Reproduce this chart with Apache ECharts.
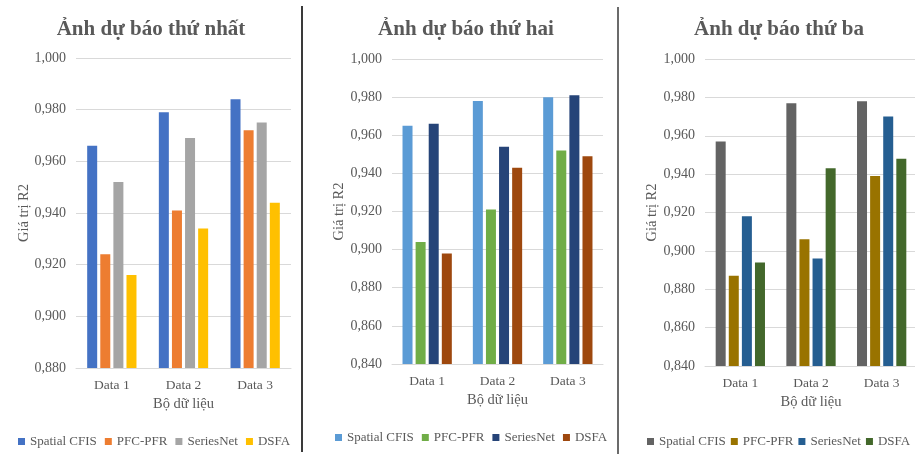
<!DOCTYPE html>
<html>
<head>
<meta charset="utf-8">
<script src="https://cdn.jsdelivr.net/npm/echarts@6/dist/echarts.min.js"></script>
<style>
  html, body { margin: 0; padding: 0; background: #fff; overflow: hidden; }
  #wrap { position: relative; width: 915px; height: 454px; overflow: hidden; }
  .pane { position: absolute; top: 0; height: 454px; }
  .sep { position: absolute; width: 2px; }
</style>
</head>
<body>
<div id="wrap">
  <div class="pane" id="pic1" style="left:0;width:302px"></div>
  <div class="pane" id="pic2" style="left:303px;width:314px"></div>
  <div class="pane" id="pic3" style="left:619px;width:320px"></div>
  <div class="sep" style="left:301px;top:6px;height:446px;background:#3a3a3a"></div>
  <div class="sep" style="left:617px;top:7px;height:447px;background:#6b6b6b"></div>
</div>
<script>
(function() {
  'use strict';
  var echarts = window.echarts;

  // 数据
  var categories = ['Data 1', 'Data 2', 'Data 3'];
  var models = ['Spatial CFIS', 'PFC-PFR', 'SeriesNet', 'DSFA'];

  var titles = ['Ảnh dự báo thứ nhất', 'Ảnh dự báo thứ hai', 'Ảnh dự báo thứ ba'];

  // 图一
  var spatial1 = [0.966, 0.979, 0.984];
  var pfc1 = [0.924, 0.941, 0.972];
  var seriesNet1 = [0.952, 0.969, 0.975];
  var dsfa1 = [0.916, 0.934, 0.944];

  // 图二
  var spatial2 = [0.965, 0.978, 0.980];
  var pfc2 = [0.904, 0.921, 0.952];
  var seriesNet2 = [0.966, 0.954, 0.981];
  var dsfa2 = [0.898, 0.943, 0.949];

  // 图三
  var spatial3 = [0.957, 0.977, 0.978];
  var pfc3 = [0.887, 0.906, 0.939];
  var seriesNet3 = [0.918, 0.896, 0.970];
  var dsfa3 = [0.894, 0.943, 0.948];

  var font = '"Liberation Serif", "Times New Roman", serif';
  var grey = '#595959';

  function tickText(v) {
    return v.toFixed(3).replace('.', ',');
  }

  function build(cfg) {
    var list = [cfg.a, cfg.b, cfg.c, cfg.d];
    var series = [];
    for (var i = 0; i < models.length; i++) {
      series.push({
        name: models[i],
        type: 'bar',
        barWidth: 10,
        barGap: '31%',
        data: list[i],
        itemStyle: { color: cfg.colors[i] }
      });
    }
    return {
      animation: false,
      color: cfg.colors,
      title: {
        text: cfg.title,
        left: cfg.titleX,
        textAlign: 'center',
        top: 19,
        padding: 0,
        textStyle: { fontFamily: font, fontSize: 21, fontWeight: 'bold', color: grey }
      },
      legend: {
        data: models,
        left: cfg.legendX,
        top: cfg.legendY,
        padding: 0,
        icon: 'rect',
        itemWidth: 7,
        itemHeight: 7,
        itemGap: cfg.legendGap,
        textStyle: { fontFamily: font, fontSize: 13, color: grey }
      },
      grid: cfg.grid,
      xAxis: {
        type: 'category',
        data: categories,
        name: 'Bộ dữ liệu',
        nameLocation: 'middle',
        nameGap: 29,
        nameMoveOverlap: false,
        nameTextStyle: { fontFamily: font, fontSize: 14.5, color: grey },
        axisLine: { lineStyle: { color: '#d9d9d9' } },
        axisTick: { show: false },
        axisLabel: { fontFamily: font, fontSize: 13.5, color: grey, margin: 10 }
      },
      yAxis: {
        type: 'value',
        min: cfg.min,
        max: 1,
        interval: 0.02,
        name: 'Giá trị R2',
        nameLocation: 'middle',
        nameRotate: 90,
        nameGap: cfg.nameGap,
        nameMoveOverlap: false,
        nameTextStyle: { fontFamily: font, fontSize: 14.5, color: grey },
        axisLine: { show: false },
        axisTick: { show: false },
        splitLine: { lineStyle: { color: '#d9d9d9' } },
        axisLabel: { fontFamily: font, fontSize: 14, color: grey, margin: 10, formatter: tickText }
      },
      series: series
    };
  }

  var chart1 = echarts.init(document.getElementById('pic1'));
  chart1.setOption(build({
    title: titles[0], titleX: 151, legendX: 18, legendY: 435, legendGap: 8,
    grid: { left: 76, right: 11, top: 58, bottom: 86 },
    min: 0.88, nameGap: 44,
    colors: ['#4472C4', '#ED7D31', '#A5A5A5', '#FFC000'],
    a: spatial1, b: pfc1, c: seriesNet1, d: dsfa1
  }));

  var chart2 = echarts.init(document.getElementById('pic2'));
  chart2.setOption(build({
    title: titles[1], titleX: 163, legendX: 32, legendY: 431, legendGap: 8,
    grid: { left: 89, right: 14, top: 59, bottom: 90 },
    min: 0.84, nameGap: 45,
    colors: ['#5B9BD5', '#70AD47', '#264478', '#9E480E'],
    a: spatial2, b: pfc2, c: seriesNet2, d: dsfa2
  }));

  var chart3 = echarts.init(document.getElementById('pic3'));
  chart3.setOption(build({
    title: titles[2], titleX: 160, legendX: 28, legendY: 435, legendGap: 5,
    grid: { left: 86, right: 22, top: 59, bottom: 88 },
    min: 0.84, nameGap: 45,
    colors: ['#636363', '#997300', '#255E91', '#43682B'],
    a: spatial3, b: pfc3, c: seriesNet3, d: dsfa3
  }));

}());
</script>
</body>
</html>
